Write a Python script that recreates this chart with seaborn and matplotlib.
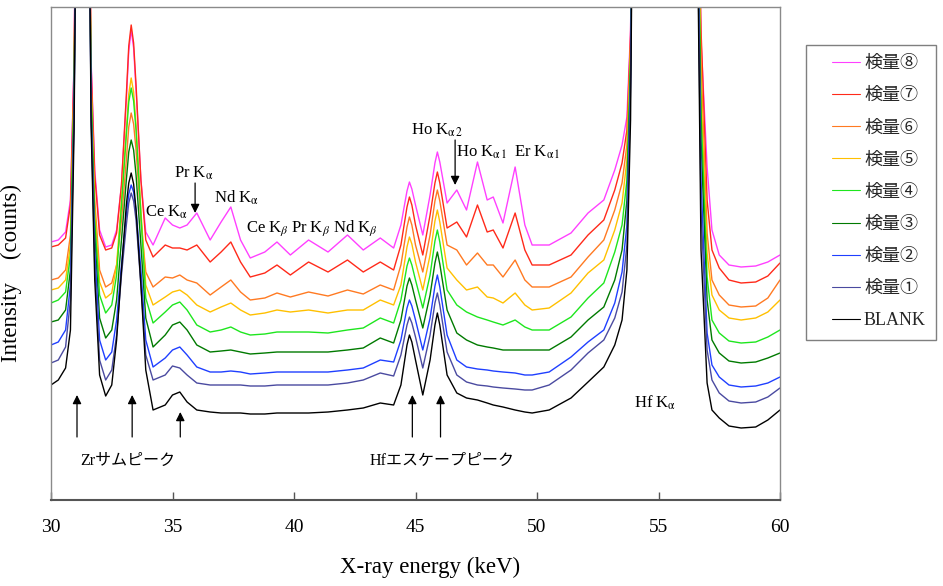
import matplotlib
matplotlib.use("Agg")
import matplotlib.pyplot as plt
import pandas as pd
import seaborn as sns
from matplotlib.lines import Line2D
from matplotlib.legend_handler import HandlerLine2D

# Energy grid (keV) shared by all spectra
energy = [30.0, 30.3, 30.6, 30.8, 30.95, 31.1, 31.3, 31.5, 31.65, 31.8,
          32.0, 32.25, 32.5, 32.7, 32.9, 33.1, 33.2, 33.3, 33.4, 33.5,
          33.7, 33.9, 34.2, 34.7, 35.0, 35.3, 35.6, 36.0, 36.55, 37.0,
          37.4, 37.8, 38.2, 38.8, 39.3, 39.85, 40.6, 41.4, 42.2, 42.85,
          43.55, 44.1, 44.4, 44.65, 44.75, 44.85, 45.0, 45.3, 45.6, 45.8,
          45.9, 46.0, 46.3, 46.7, 47.1, 47.55, 47.95, 48.2, 48.6, 49.1,
          49.5, 49.8, 50.5, 51.4, 52.1, 52.75, 53.2, 53.5, 53.7, 53.85,
          54.0, 55.5, 56.5, 56.75, 57.0, 57.2, 57.5, 57.9, 58.4, 59.0,
          59.5, 60.0]

# Intensity (counts, arbitrary scale); Zr K and Hf K peaks run off scale
std8 = [258, 260, 268, 300, 440, 800, 800, 800, 440, 330,
        270, 253, 255, 270, 315, 400, 449, 470, 452, 410,
        320, 268, 255, 282, 275, 272, 275, 287, 260, 278,
        293, 260, 242, 248, 258, 245, 260, 248, 265, 250,
        262, 252, 275, 309, 318, 311, 295, 265, 305, 337,
        348, 338, 297, 310, 290, 338, 300, 303, 277, 333,
        275, 255, 255, 267, 287, 300, 330, 355, 383, 470,
        800, 800, 800, 460, 333, 270, 245, 235, 233, 234,
        238, 245]
std7 = [253, 255, 262, 295, 435, 800, 800, 800, 435, 325,
        265, 250, 252, 267, 315, 405, 454, 475, 457, 415,
        320, 260, 243, 255, 252, 252, 250, 255, 238, 248,
        258, 238, 223, 227, 235, 225, 238, 228, 240, 228,
        238, 230, 255, 293, 303, 295, 275, 245, 285, 317,
        328, 317, 272, 278, 263, 295, 268, 270, 252, 287,
        250, 235, 235, 245, 265, 280, 310, 337, 370, 465,
        800, 800, 800, 470, 300, 250, 232, 220, 217, 218,
        224, 237]
std6 = [220, 222, 230, 265, 420, 800, 800, 800, 420, 300,
        230, 213, 217, 235, 280, 340, 373, 387, 376, 350,
        280, 228, 213, 223, 222, 225, 220, 217, 205, 213,
        220, 208, 200, 202, 207, 203, 208, 204, 210, 206,
        215, 210, 235, 273, 283, 275, 255, 228, 265, 299,
        310, 299, 255, 250, 235, 247, 235, 235, 223, 240,
        220, 213, 213, 223, 243, 260, 290, 317, 355, 455,
        800, 800, 800, 440, 267, 220, 205, 195, 193, 194,
        202, 220]
std5 = [210, 212, 220, 255, 415, 800, 800, 800, 415, 290,
        218, 202, 207, 235, 300, 370, 406, 422, 408, 375,
        290, 215, 195, 203, 208, 210, 205, 195, 188, 193,
        197, 190, 185, 187, 190, 188, 190, 187, 190, 190,
        200, 195, 215, 253, 263, 256, 238, 210, 245, 279,
        290, 278, 232, 220, 210, 213, 203, 202, 197, 207,
        195, 190, 192, 207, 227, 240, 270, 297, 340, 450,
        800, 800, 800, 410, 247, 205, 190, 182, 180, 182,
        188, 200]
std4 = [197, 200, 208, 245, 410, 800, 800, 800, 410, 280,
        205, 187, 195, 225, 295, 365, 398, 412, 399, 370,
        285, 202, 177, 188, 195, 198, 190, 175, 168, 170,
        173, 168, 165, 166, 168, 168, 168, 167, 170, 172,
        182, 177, 200, 234, 242, 235, 220, 192, 225, 259,
        270, 258, 210, 195, 188, 183, 180, 178, 175, 180,
        173, 170, 170, 183, 202, 217, 248, 275, 320, 440,
        800, 800, 800, 390, 223, 180, 167, 159, 157, 158,
        163, 170]
std3 = [178, 180, 190, 230, 400, 800, 800, 800, 400, 265,
        182, 162, 170, 200, 260, 320, 348, 360, 350, 325,
        255, 182, 153, 165, 175, 178, 170, 155, 148, 149,
        150, 148, 146, 147, 148, 148, 148, 148, 150, 152,
        162, 157, 180, 214, 222, 215, 200, 172, 205, 237,
        248, 236, 190, 167, 160, 155, 153, 152, 150, 150,
        150, 150, 150, 163, 180, 193, 220, 250, 300, 430,
        800, 800, 800, 360, 200, 160, 147, 139, 137, 138,
        142, 147]
std2 = [155, 158, 170, 215, 390, 800, 800, 800, 390, 250,
        160, 140, 148, 180, 235, 285, 306, 315, 308, 290,
        230, 160, 133, 142, 150, 153, 145, 133, 128, 128,
        129, 128, 126, 127, 128, 128, 128, 128, 130, 132,
        140, 138, 160, 192, 200, 194, 180, 150, 182, 214,
        225, 213, 165, 140, 133, 131, 130, 129, 128, 127,
        125, 125, 128, 143, 158, 170, 197, 228, 275, 420,
        800, 800, 800, 320, 167, 135, 123, 115, 113, 114,
        117, 123]
std1 = [137, 140, 153, 200, 385, 800, 800, 800, 385, 235,
        140, 120, 130, 165, 225, 275, 297, 307, 299, 280,
        215, 145, 120, 125, 134, 132, 125, 117, 115, 115,
        115, 115, 114, 114, 115, 115, 115, 115, 117, 120,
        127, 124, 145, 175, 183, 177, 163, 132, 165, 197,
        207, 195, 148, 125, 118, 115, 114, 113, 112, 111,
        110, 110, 115, 130, 147, 160, 182, 208, 255, 410,
        800, 800, 800, 290, 150, 120, 107, 99, 97, 98,
        103, 112]
blank = [115, 120, 132, 170, 370, 800, 800, 800, 375, 220,
         125, 104, 115, 160, 230, 295, 317, 327, 316, 290,
         215, 130, 90, 95, 105, 108, 98, 90, 88, 87,
         87, 87, 86, 86, 87, 87, 87, 88, 90, 92,
         97, 95, 115, 155, 165, 158, 140, 105, 140, 175,
         187, 175, 125, 107, 102, 100, 97, 95, 93, 90,
         88, 87, 90, 102, 118, 133, 155, 180, 230, 380,
         800, 800, 800, 250, 117, 90, 82, 74, 72, 73,
         80, 90]

labels = ["検量⑧", "検量⑦", "検量⑥", "検量⑤", "検量④",
          "検量③", "検量②", "検量①", "BLANK"]
series = [std8, std7, std6, std5, std4, std3, std2, std1, blank]
colors = ["#FF40FF", "#FF2A1A", "#FF7A22", "#FFC000", "#1EE61E",
          "#007A00", "#1F3FFF", "#4A4AA0", "#000000"]
palette = dict(zip(labels, colors))

df = pd.concat(
    [pd.DataFrame({"energy": energy, "intensity": s, "sample": name})
     for name, s in zip(labels, series)],
    ignore_index=True,
)

sns.set_theme(style="white")
plt.rcParams["font.family"] = ["Liberation Serif", "Noto Sans CJK JP"]
plt.rcParams["mathtext.fontset"] = "stix"

fig = plt.figure(figsize=(9.43, 5.86), dpi=100)
ax = fig.add_axes([51 / 943, 86 / 586, 729 / 943, 493 / 586])

sns.lineplot(data=df, x="energy", y="intensity", hue="sample",
             hue_order=labels, palette=palette, estimator=None, sort=False,
             linewidth=1.0, legend=False, ax=ax)

ax.set_xlim(30, 60)
ax.set_ylim(0, 493)
ax.set_xticks(range(30, 61, 5))
ax.set_yticks([])
ax.tick_params(axis="x", bottom=True, direction="in", length=6, width=1,
               color="#555555", pad=14, labelsize=14, labelcolor="black")
for side, sp in ax.spines.items():
    sp.set_visible(True)
    sp.set_color("#8a8a8a")
    sp.set_linewidth(1.0)
ax.spines["bottom"].set_color("#555555")
ax.spines["bottom"].set_linewidth(1.5)

ax.set_xlabel("X-ray energy (keV)", fontsize=16.5, color="black")
ax.xaxis.set_label_coords(0.52, -0.116)
ax.set_ylabel("Intensity\u3000(counts)", fontsize=16.5, color="black")
ax.yaxis.set_label_coords(-0.04, 0.46)

# Peak labels
fs = 12
peak_labels = [
    (33.87, 283, r"Ce K$_{\mathrm{\alpha}}$"),
    (35.06, 322, r"Pr K$_{\mathrm{\alpha}}$"),
    (36.71, 297, r"Nd K$_{\mathrm{\alpha}}$"),
    (38.02, 268, r"Ce K$_{\beta}$"),
    (39.88, 268, r"Pr K$_{\beta}$"),
    (41.60, 268, r"Nd K$_{\beta}$"),
    (44.81, 365, r"Ho K$_{\mathrm{\alpha\,2}}$"),
    (46.67, 343, r"Ho K$_{\mathrm{\alpha\,1}}$"),
    (49.05, 343, r"Er K$_{\mathrm{\alpha\,1}}$"),
    (53.99, 92, r"Hf K$_{\mathrm{\alpha}}$"),
]
for x, y, t in peak_labels:
    ax.text(x, y, t, fontsize=fs, ha="left", va="baseline", color="black")

ax.text(31.19, 35, "Zrサムピーク", fontsize=11.5, ha="left", va="baseline",
        color="black")
ax.text(43.13, 35, "Hfエスケープピーク", fontsize=11.5, ha="left",
        va="baseline", color="black")

arrow = dict(arrowstyle="-|>", color="black", lw=0.9, mutation_scale=13,
             shrinkA=0, shrinkB=0)
# downward markers at Pr K-alpha and Ho K-alpha2
for x, y0, y1 in [(35.93, 317, 287), (46.63, 360, 315)]:
    ax.annotate("", xy=(x, y1), xytext=(x, y0), arrowprops=arrow)
# upward markers at Zr sum peaks and Hf escape peaks
for x, tip in [(31.07, 105), (33.34, 105), (35.32, 88), (44.87, 105), (46.03, 105)]:
    ax.annotate("", xy=(x, tip), xytext=(x, 63), arrowprops=arrow)

handles = [Line2D([], [], color=c, lw=0.8) for c in colors]
leg = ax.legend(handles, labels, loc="upper left",
                bbox_to_anchor=(806 / 943, 1 - 45 / 586),
                bbox_transform=fig.transFigure, borderaxespad=0,
                fontsize=13, handlelength=2.45, handletextpad=0.2,
                labelspacing=0.84, borderpad=0.56, frameon=True,
                fancybox=False, edgecolor="#7f7f7f", framealpha=1,
                handler_map={Line2D: HandlerLine2D(xpad=0.9)})
leg.get_frame().set_linewidth(1.0)

fig.savefig("out.png", dpi=100, facecolor="white")
